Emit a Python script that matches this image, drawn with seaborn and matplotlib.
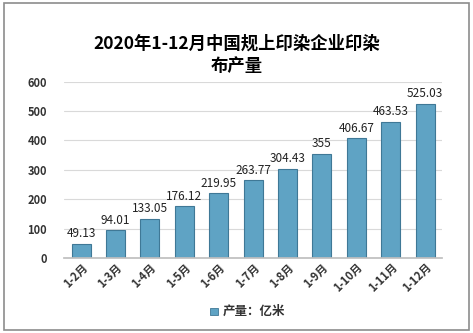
import matplotlib
matplotlib.use("Agg")
import matplotlib.pyplot as plt
import seaborn as sns
import pandas as pd
from matplotlib.patches import Rectangle

months = ["1-2月", "1-3月", "1-4月", "1-5月", "1-6月", "1-7月", "1-8月", "1-9月", "1-10月", "1-11月", "1-12月"]
values = [49.13, 94.01, 133.05, 176.12, 219.95, 263.77, 304.43, 355, 406.67, 463.53, 525.03]
labels = ["49.13", "94.01", "133.05", "176.12", "219.95", "263.77", "304.43", "355", "406.67", "463.53", "525.03"]
title = "2020年1-12月中国规上印染企业印染\n布产量"
legend_label = "产量：亿米"

sns.set_theme(style="white")
plt.rcParams['font.family'] = ['Noto Sans CJK SC', 'DejaVu Sans']

df = pd.DataFrame({"month": months, "value": values})

fig = plt.figure(figsize=(4.73, 3.33), dpi=100)
ax = fig.add_axes([0.135, 0.225, 0.8, 0.53])
sns.barplot(data=df, x="month", y="value", ax=ax, color="#5fa3c4",
            edgecolor="#3f7896", linewidth=0.8, width=0.55, saturation=1)

ax.set_ylim(0, 600)
ax.set_yticks(range(0, 601, 100))
ax.yaxis.grid(True, color="#d9d9d9", linewidth=0.8)
ax.set_axisbelow(True)
for s in ["top", "right", "left"]:
    ax.spines[s].set_visible(False)
ax.spines["bottom"].set_color("#bfbfbf")
ax.set_xlabel("")
ax.set_ylabel("")
ax.tick_params(axis="y", labelsize=8, length=0, pad=12)
ax.tick_params(axis="x", labelsize=8, length=0, pad=2)
for t in ax.get_yticklabels():
    t.set_fontweight("bold")
    t.set_color("#333333")
for t in ax.get_xticklabels():
    t.set_rotation(45)
    t.set_ha("right")
    t.set_rotation_mode("anchor")
    t.set_fontweight("bold")
    t.set_color("#333333")

for p, lab in zip(ax.patches, labels):
    ax.text(p.get_x() + p.get_width() / 2, p.get_height() + 12, lab,
            ha="center", va="bottom", fontsize=8.5, color="#222222")

fig.text(0.5, 0.835, title, ha="center", va="center", fontsize=12.5,
         fontweight="bold", color="black", linespacing=1.3)

# legend
fig.patches.append(Rectangle((0.445, 0.053), 0.016, 0.022, transform=fig.transFigure,
                             facecolor="#5fa3c4", edgecolor="#3f7896", linewidth=0.6))
fig.text(0.47, 0.064, legend_label, ha="left", va="center", fontsize=9,
         fontweight="bold", color="#333333")

# border
fig.patches.append(Rectangle((0.008, 0.008), 0.984, 0.984, transform=fig.transFigure,
                             fill=False, edgecolor="#8c8c8c", linewidth=1.2))

fig.savefig("out.png", dpi=100)
